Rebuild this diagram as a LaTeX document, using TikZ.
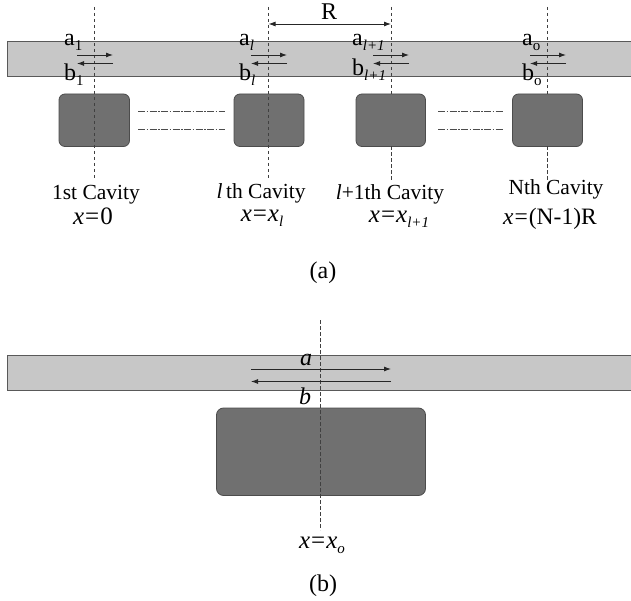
\documentclass[tikz,border=0pt]{standalone}
\usepackage{fontspec}
\setmainfont{Liberation Serif}
\usetikzlibrary{arrows.meta}
\tikzset{
  x=1pt,y=-1pt,
  guide/.style={line width=0.7pt,draw=black!75,dash pattern=on 3.5pt off 2.5pt},
  wave/.style={fill=black!22,draw=black!65,line width=1pt},
  cav/.style={fill=black!56,draw=black!70,line width=0.8pt,rounded corners=6pt},
  flow/.style={line width=0.9pt,draw=black!85,-{Latex[length=7pt,width=5pt]}},
  dimline/.style={line width=0.9pt,draw=black!85,{Latex[length=7pt,width=5pt]}-{Latex[length=7pt,width=5pt]}},
  linkline/.style={line width=0.7pt,draw=black!70,dash pattern=on 7pt off 1.5pt on 1.5pt off 1.5pt},
  caplabel/.style={inner sep=0pt,font=\fontsize{21.5}{25}\selectfont},
  poslabel/.style={inner sep=0pt,font=\fontsize{25}{28}\selectfont},
  fieldlabel/.style={inner sep=0pt,font=\fontsize{24}{28}\selectfont},
  biglabel/.style={inner sep=0pt,font=\fontsize{24}{28}\selectfont},
}
\newcommand{\subt}[1]{\raisebox{-5pt}{\fontsize{15}{15}\selectfont #1}}
\newcommand{\eqq}{\kern1pt=\kern1pt}
\begin{document}
\begin{tikzpicture}
\useasboundingbox (0,0) rectangle (631,601);
% (a) waveguide
\path[wave] (631,41.5) -- (7,41.5) -- (7,77) -- (631,77);
% cavities
\path[cav] (59,94) rectangle (129.5,146.5);
\path[cav] (234,94) rectangle (304,146.5);
\path[cav] (356,94) rectangle (425.5,146.5);
\path[cav] (512.5,94) rectangle (582.5,146.5);
% dashed axes
\coordinate (t1) at (94.5,7); \coordinate (e1) at (94.5,180);
\coordinate (t2) at (268.5,7); \coordinate (e2) at (268.5,180);
\coordinate (t3) at (391,7); \coordinate (e3) at (391,180);
\coordinate (t4) at (547.5,7); \coordinate (e4) at (547.5,180);
\draw[guide] (t1) -- (e1);
\draw[guide] (t2) -- (e2);
\draw[guide] (t3) -- (391,94) (391,146.5) -- (e3);
\draw[guide] (t4) -- (547.5,94) (547.5,146.5) -- (e4);
% R
\coordinate (r1) at (268.5,24); \coordinate (r2) at (391,24);
\draw[dimline] (r1) -- (r2);
\node[biglabel,anchor=base] (R) at (329,20) {R};
% flow arrows
\foreach \a/\b in {77/113,251/287,373/409,530/566}{
  \draw[flow] (\a,55) -- (\b,55);
  \draw[flow] (\b,63.5) -- (\a,63.5);
}
% dash-dot links
\foreach \y in {111,129}{
  \draw[linkline] (138,\y) -- (225,\y);
  \draw[linkline] (438,\y) -- (504,\y);
}
% labels
\node[fieldlabel,anchor=base west] (a1) at (64,46) {a\subt{1}};
\node[fieldlabel,anchor=base west] (b1) at (64,81) {b\subt{1}};
\node[fieldlabel,anchor=base west] (al) at (239,46) {a\subt{\itshape l}};
\node[fieldlabel,anchor=base west] (bl) at (239,81) {b\subt{\itshape l}};
\node[fieldlabel,anchor=base west] (am) at (352,46) {a\subt{\itshape l+1}};
\node[fieldlabel,anchor=base west] (bm) at (352,76) {b\subt{\itshape l+1}};
\node[fieldlabel,anchor=base west] (ao) at (522,46) {a\subt{o}};
\node[fieldlabel,anchor=base west] (bo) at (522,81) {b\subt{o}};
\node[caplabel,anchor=base] (c1) at (96,200) {1st Cavity};
\node[poslabel,anchor=base] (x1) at (93,225) {\textit{x}\eqq 0};
\node[caplabel,anchor=base] (c2) at (261,199) {\textit{l}\,th Cavity};
\node[poslabel,anchor=base] (x2) at (262,222) {\textit{x}\eqq\textit{x}\subt{\itshape l}};
\node[caplabel,anchor=base] (c3) at (390,200) {\textit{l}+1th Cavity};
\node[poslabel,anchor=base] (x3) at (399,223) {\textit{x}\eqq\textit{x}\subt{\itshape l+1}};
\node[caplabel,anchor=base] (c4) at (556,195) {Nth Cavity};
\node[poslabel,anchor=base,font=\fontsize{23.5}{26}\selectfont] (x4) at (550,225) {\textit{x}\eqq(N-1)R};
\node[biglabel,anchor=base] (ca) at (323,279) {(a)};
% (b)
\path[wave] (631,355.7) -- (7,355.7) -- (7,390.7) -- (631,390.7);
\path[cav,rounded corners=7pt] (216.5,408) rectangle (425.5,495.5);
\coordinate (tb) at (320.7,320); \coordinate (eb) at (320.7,530);
\draw[guide] (tb) -- (eb);
\draw[flow] (251,369) -- (391,369);
\draw[flow] (391,381.5) -- (251,381.5);
\node[biglabel,anchor=base] (a) at (306,365) {\textit{a}};
\node[biglabel,anchor=base] (b) at (305,404) {\textit{b}};
\node[poslabel,anchor=base] (xo) at (322,548) {\textit{x}\eqq\textit{x}\subt{\itshape o}};
\node[biglabel,anchor=base] (cb) at (323,591) {(b)};
\end{tikzpicture}
\end{document}
